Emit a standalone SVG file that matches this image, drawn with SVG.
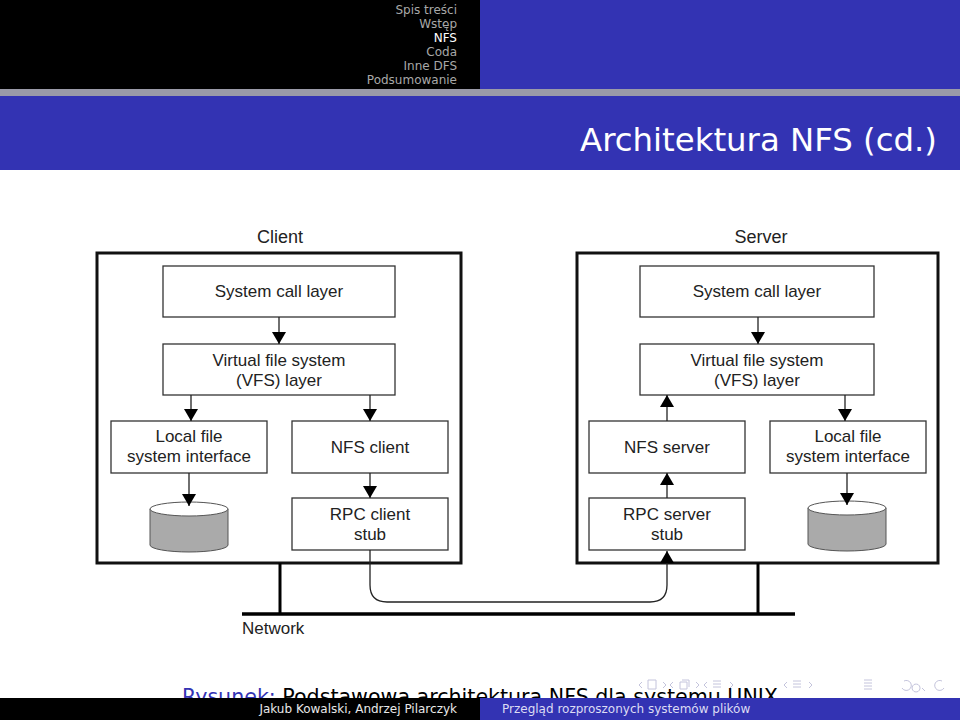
<svg xmlns="http://www.w3.org/2000/svg" width="960" height="720" viewBox="0 0 960 720">
<defs>
<marker id="ah" viewBox="0 0 12 14" refX="12" refY="7" markerWidth="12" markerHeight="14" markerUnits="userSpaceOnUse" orient="auto">
<path d="M0,0 L12,7 L0,14 Z" fill="#000"/>
</marker>
<clipPath id="capclip"><rect x="0" y="600" width="960" height="98"/></clipPath>
</defs>
<style>
.nav{font-family:"DejaVu Sans","Liberation Sans",sans-serif;font-size:12px;fill:#a8a8a8;text-anchor:end}
.box{fill:#fff;stroke:#333;stroke-width:1.3}
.cont{fill:#fff;stroke:#111;stroke-width:3}
.lbl{font-family:"Liberation Sans",Arial,sans-serif;font-size:17px;fill:#222;text-anchor:middle}
.arr{stroke:#222;stroke-width:1.3;fill:none;marker-end:url(#ah)}
.cyl{fill:#aaa;stroke:#555;stroke-width:1}
.icon{fill:none;stroke:#c4c4dc;stroke-width:1}
</style>
<rect x="0" y="0" width="960" height="720" fill="#fff"/>
<!-- header -->
<rect x="0" y="0" width="480" height="89" fill="#000"/>
<rect x="480" y="0" width="480" height="89" fill="#3333b3"/>
<rect x="0" y="89" width="960" height="7" fill="#9a9aa8"/>
<rect x="0" y="96" width="960" height="74" fill="#3333b3"/>
<text class="nav" x="457" y="14">Spis treści</text>
<text class="nav" x="457" y="28">Wstęp</text>
<text class="nav" x="457" y="42" style="fill:#fff">NFS</text>
<text class="nav" x="457" y="56">Coda</text>
<text class="nav" x="457" y="70">Inne DFS</text>
<text class="nav" x="457" y="84">Podsumowanie</text>
<text x="937" y="151" font-family="DejaVu Sans,Liberation Sans,sans-serif" font-size="32" fill="#fff" text-anchor="end" textLength="357" lengthAdjust="spacingAndGlyphs">Architektura NFS (cd.)</text>

<!-- containers -->
<text class="lbl" x="280" y="243" style="font-size:18px">Client</text>
<text class="lbl" x="761" y="243" style="font-size:18px">Server</text>
<rect class="cont" x="97" y="253" width="364" height="310"/>
<rect class="cont" x="577" y="253" width="361" height="310"/>

<!-- network -->
<g id="network">
<line x1="242" y1="614" x2="795" y2="614" stroke="#000" stroke-width="3.5"/>
<line x1="280" y1="563" x2="280" y2="614" stroke="#000" stroke-width="3"/>
<line x1="758" y1="563" x2="758" y2="614" stroke="#000" stroke-width="3"/>
<text x="242" y="634" font-family="Liberation Sans,Arial,sans-serif" font-size="17" fill="#222">Network</text>
</g>

<!-- client nodes -->
<g id="c-syscall"><rect class="box" x="163" y="266" width="232" height="51"/><text class="lbl" x="279" y="297">System call layer</text></g>
<g id="c-vfs"><rect class="box" x="163" y="344" width="232" height="51"/><text class="lbl" x="279" y="366">Virtual file system</text><text class="lbl" x="279" y="386">(VFS) layer</text></g>
<g id="c-local"><rect class="box" x="111" y="421" width="156" height="52"/><text class="lbl" x="189" y="442">Local file</text><text class="lbl" x="189" y="462">system interface</text></g>
<g id="c-nfs"><rect class="box" x="292" y="421" width="156" height="52"/><text class="lbl" x="370" y="453">NFS client</text></g>
<g id="c-rpc"><rect class="box" x="292" y="498" width="156" height="52"/><text class="lbl" x="370" y="520">RPC client</text><text class="lbl" x="370" y="540">stub</text></g>
<g id="c-disk">
<path class="cyl" d="M150,509 L150,545 A39,7 0 0 0 228,545 L228,509 Z"/>
<ellipse cx="189" cy="509" rx="39" ry="7" fill="#fff" stroke="#555" stroke-width="1"/>
</g>

<!-- server nodes -->
<g id="s-syscall"><rect class="box" x="640" y="266" width="234" height="51"/><text class="lbl" x="757" y="297">System call layer</text></g>
<g id="s-vfs"><rect class="box" x="640" y="344" width="234" height="51"/><text class="lbl" x="757" y="366">Virtual file system</text><text class="lbl" x="757" y="386">(VFS) layer</text></g>
<g id="s-nfs"><rect class="box" x="589" y="421" width="156" height="52"/><text class="lbl" x="667" y="453">NFS server</text></g>
<g id="s-local"><rect class="box" x="770" y="421" width="156" height="52"/><text class="lbl" x="848" y="442">Local file</text><text class="lbl" x="848" y="462">system interface</text></g>
<g id="s-rpc"><rect class="box" x="589" y="498" width="156" height="52"/><text class="lbl" x="667" y="520">RPC server</text><text class="lbl" x="667" y="540">stub</text></g>
<g id="s-disk">
<path class="cyl" d="M808,508 L808,544 A39,7 0 0 0 886,544 L886,508 Z"/>
<ellipse cx="847" cy="508" rx="39" ry="7" fill="#fff" stroke="#555" stroke-width="1"/>
</g>

<!-- connectors -->
<g id="connectors">
<line class="arr" x1="279" y1="317" x2="279" y2="344"/>
<line class="arr" x1="191" y1="395" x2="191" y2="421"/>
<line class="arr" x1="370" y1="395" x2="370" y2="421"/>
<line class="arr" x1="189" y1="473" x2="189" y2="506"/>
<line class="arr" x1="370" y1="473" x2="370" y2="498"/>
<line class="arr" x1="758" y1="317" x2="758" y2="344"/>
<line class="arr" x1="667" y1="421" x2="667" y2="395"/>
<line class="arr" x1="845" y1="395" x2="845" y2="421"/>
<line class="arr" x1="847" y1="473" x2="847" y2="505"/>
<line class="arr" x1="667" y1="498" x2="667" y2="473"/>
<path class="arr" d="M370,550 L370,585 Q370,602 387,602 L650,602 Q667,602 667,585 L667,551"/>
</g>

<!-- caption (clipped by footer as in the slide) -->
<text clip-path="url(#capclip)" x="182" y="704" font-family="DejaVu Sans,Liberation Sans,sans-serif" font-size="22" fill="#000" textLength="596" lengthAdjust="spacingAndGlyphs"><tspan fill="#3333b3">Rysunek:</tspan> Podstawowa architektura NFS dla systemu UNIX</text>

<!-- nav icons -->
<g id="navicons">
<path class="icon" d="M642,682 L639,685 L642,688 M648,680 h8 v9 h-8 z M663,682 L666,685 L663,688"/>
<path class="icon" d="M673,682 L670,685 L673,688 M680,682 h7 v7 h-7 z M682,680 h7 v7 M696,682 L699,685 L696,688"/>
<path class="icon" d="M707,682 L704,685 L707,688 M713,681 h8 M713,684 h8 M713,687 h8 M730,682 L733,685 L730,688"/>
<path class="icon" d="M787,682 L784,685 L787,688 M793,681 h8 M793,684 h8 M793,687 h8 M809,682 L812,685 L809,688"/>
<path class="icon" d="M864,680 h8 M864,683 h8 M864,686 h8 M864,689 h8"/>
<path class="icon" d="M904,681 a5,5 0 1 1 -2,7 M916,684 a4,4 0 1 0 0.1,0 M922,688 l3,3 M942,681 a5,5 0 1 0 2,7"/>
</g>

<!-- footer -->
<rect x="0" y="698" width="480" height="22" fill="#000"/>
<rect x="480" y="698" width="480" height="22" fill="#3333b3"/>
<text x="457" y="713" font-family="DejaVu Sans,Liberation Sans,sans-serif" font-size="12" fill="#e8e8e8" text-anchor="end">Jakub Kowalski, Andrzej Pilarczyk</text>
<text x="502" y="713" font-family="DejaVu Sans,Liberation Sans,sans-serif" font-size="12" fill="#dcdcf4">Przegląd rozproszonych systemów plików</text>
</svg>
